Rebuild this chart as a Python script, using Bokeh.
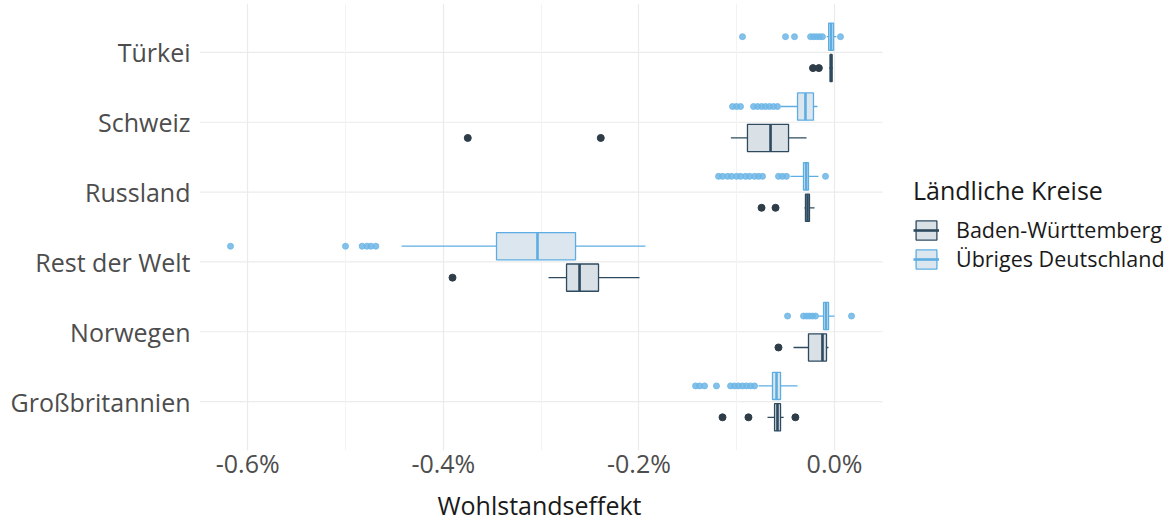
from bokeh.plotting import figure
from bokeh.models import (ColumnDataSource, FactorRange, Range1d, FixedTicker,
                          CustomJSTickFormatter, Legend, LegendItem, Title)
from bokeh.transform import dodge
from bokeh.embed import file_html
from bokeh.resources import INLINE

# ---------------- data (values in percent) ----------------
categories = ["Großbritannien", "Norwegen", "Rest der Welt", "Russland", "Schweiz", "Türkei"]

# Baden-Württemberg: lower whisker, q1, median, q3, upper whisker
bw_lo  = [-0.0685, -0.0419, -0.2924, -0.0307, -0.1060, -0.0055]
bw_q1  = [-0.0613, -0.0266, -0.2740, -0.0297, -0.0890, -0.0045]
bw_med = [-0.0583, -0.0123, -0.2607, -0.0276, -0.0654, -0.0035]
bw_q3  = [-0.0552, -0.0082, -0.2413, -0.0256, -0.0470, -0.0025]
bw_hi  = [-0.0520, -0.0062, -0.1994, -0.0204, -0.0286, -0.0015]

bw_out_cat = ["Großbritannien", "Großbritannien", "Großbritannien", "Norwegen",
              "Rest der Welt", "Russland", "Russland", "Schweiz", "Schweiz",
              "Türkei", "Türkei"]
bw_out_val = [-0.1145, -0.0880, -0.0400, -0.0573,
              -0.3906, -0.0746, -0.0603, -0.3750, -0.2390,
              -0.0220, -0.0160]

# Übriges Deutschland
ud_lo  = [-0.0777, -0.0164, -0.4427, -0.0450, -0.0550, -0.0080]
ud_q1  = [-0.0634, -0.0112, -0.3456, -0.0317, -0.0378, -0.0060]
ud_med = [-0.0593, -0.0087, -0.3037, -0.0290, -0.0297, -0.0036]
ud_q3  = [-0.0552, -0.0061, -0.2648, -0.0266, -0.0215, -0.0010]
ud_hi  = [-0.0378,  0.0000, -0.1933, -0.0164, -0.0174,  0.0020]

ud_out_gb = [-0.1421, -0.1380, -0.1329, -0.1207, -0.1063, -0.1022, -0.0982,
             -0.0941, -0.0900, -0.0859, -0.0818]
ud_out_no = [-0.0480, -0.0317, -0.0286, -0.0256, -0.0225, -0.0194, 0.0174]
ud_out_rw = [-0.6176, -0.5000, -0.4830, -0.4780, -0.4740, -0.4690]
ud_out_ru = [-0.1186, -0.1145, -0.1094, -0.1053, -0.1002, -0.0961, -0.0910,
             -0.0869, -0.0818, -0.0777, -0.0736, -0.0573, -0.0532, -0.0491,
             -0.0092]
ud_out_ch = [-0.1043, -0.1002, -0.0961, -0.0828, -0.0787, -0.0746, -0.0706,
             -0.0665, -0.0624, -0.0583]
ud_out_tr = [-0.0941, -0.0501, -0.0409, -0.0245, -0.0215, -0.0184, -0.0153,
             -0.0123, 0.0061]

x_ticks = [-0.6, -0.4, -0.2, 0.0]
x_minor = [-0.5, -0.3, -0.1]
x_panel = [-0.6493, 0.0491]      # data extent of the plotting panel

series_labels = ["Baden-Württemberg", "Übriges Deutschland"]
legend_title = "Ländliche Kreise"
x_title = "Wohlstandseffekt"

# ---------------- styling ----------------
FONT = "Open Sans"
DARK = "#2E4A5F"
BLUE = "#5DADE2"
FILL_DARK = "#D9E0E6"
FILL_BLUE = "#DCE6EE"
GRID = "#EBEBEB"
H = 0.39

# frame extends to the right edge so that the legend can sit inside it
p = figure(width=1172, height=530, title=None,
           y_range=FactorRange(*categories, range_padding=0.2, range_padding_units="absolute"),
           x_range=Range1d(x_panel[0], x_panel[1] + 0.2965),
           output_backend="svg", toolbar_location=None,
           min_border_left=199, min_border_right=0,
           min_border_top=3, min_border_bottom=80)
p.outline_line_color = None
p.background_fill_color = "white"

# horizontal grid lines only across the data panel
gsrc = ColumnDataSource(dict(cat=categories, x0=[x_panel[0]] * len(categories),
                             x1=[x_panel[1]] * len(categories)))
p.segment(x0="x0", y0="cat", x1="x1", y1="cat", source=gsrc,
          line_color=GRID, line_width=1.2, level="underlay")


def add_group(lo, q1, med, q3, hi, out_cat, out_val, off, lc, fc, pc, palpha, psize):
    src = ColumnDataSource(dict(cat=categories, lo=lo, q1=q1, med=med, q3=q3, hi=hi))
    yc = dodge("cat", off, range=p.y_range)
    ylo = dodge("cat", off - H / 2, range=p.y_range)
    yhi = dodge("cat", off + H / 2, range=p.y_range)
    p.segment(x0="lo", y0=yc, x1="q1", y1=yc, source=src, line_color=lc, line_width=1.3)
    p.segment(x0="q3", y0=yc, x1="hi", y1=yc, source=src, line_color=lc, line_width=1.3)
    box = p.hbar(y=yc, left="q1", right="q3", height=H, source=src,
                 fill_color=fc, line_color=lc, line_width=1.3)
    medr = p.segment(x0="med", y0=ylo, x1="med", y1=yhi, source=src,
                     line_color=lc, line_width=2.6)
    osrc = ColumnDataSource(dict(cat=out_cat, val=out_val))
    p.scatter(x="val", y=yc, source=osrc, size=psize, fill_color=pc, line_color=pc,
              fill_alpha=palpha, line_alpha=palpha)
    return box, medr


bw_box, bw_medr = add_group(bw_lo, bw_q1, bw_med, bw_q3, bw_hi, bw_out_cat, bw_out_val,
                            -0.225, DARK, FILL_DARK, "#2F3D48", 1.0, 7)

ud_out_cat = (["Großbritannien"] * len(ud_out_gb) + ["Norwegen"] * len(ud_out_no) +
              ["Rest der Welt"] * len(ud_out_rw) + ["Russland"] * len(ud_out_ru) +
              ["Schweiz"] * len(ud_out_ch) + ["Türkei"] * len(ud_out_tr))
ud_out_val = ud_out_gb + ud_out_no + ud_out_rw + ud_out_ru + ud_out_ch + ud_out_tr
ud_box, ud_medr = add_group(ud_lo, ud_q1, ud_med, ud_q3, ud_hi, ud_out_cat, ud_out_val,
                            0.225, BLUE, FILL_BLUE, "#6DB6E6", 0.85, 6)

# axes
p.xaxis.ticker = FixedTicker(ticks=x_ticks, minor_ticks=x_minor)
p.xaxis.formatter = CustomJSTickFormatter(code="return tick.toFixed(1) + '%';")
for ax in (p.xaxis[0], p.yaxis[0]):
    ax.axis_line_color = None
    ax.major_tick_line_color = None
    ax.minor_tick_line_color = None
    ax.major_tick_out = 0
    ax.major_tick_in = 0
    ax.minor_tick_out = 0
    ax.minor_tick_in = 0
    ax.major_label_text_font = FONT
    ax.major_label_text_color = "#4D4D4D"
p.xaxis.major_label_text_font_size = "25px"
p.yaxis.major_label_text_font_size = "25px"
p.xaxis.major_label_standoff = -5
p.yaxis.major_label_standoff = 9

p.add_layout(Title(text=x_title, align="left", offset=238, standoff=6,
                   text_font=FONT, text_font_size="25px", text_font_style="normal",
                   text_color="#1A1A1A"), "below")

p.xgrid.grid_line_color = GRID
p.xgrid.grid_line_width = 1.2
p.xgrid.minor_grid_line_color = "#F3F3F3"
p.xgrid.minor_grid_line_width = 1
p.ygrid.grid_line_color = None

legend = Legend(items=[LegendItem(label=series_labels[0], renderers=[bw_box, bw_medr]),
                       LegendItem(label=series_labels[1], renderers=[ud_box, ud_medr])],
                location=(714, 177), title=legend_title,
                title_text_font=FONT, title_text_font_size="25px", title_text_color="#1A1A1A",
                title_text_font_style="normal", title_standoff=8,
                label_text_font=FONT, label_text_font_size="21.5px", label_text_color="#1A1A1A",
                glyph_width=26, glyph_height=24, label_height=24, label_standoff=17, spacing=0,
                padding=0, margin=0, border_line_color=None, background_fill_alpha=0)
p.add_layout(legend, "center")

open("out.html", "w").write(file_html(p, INLINE))
